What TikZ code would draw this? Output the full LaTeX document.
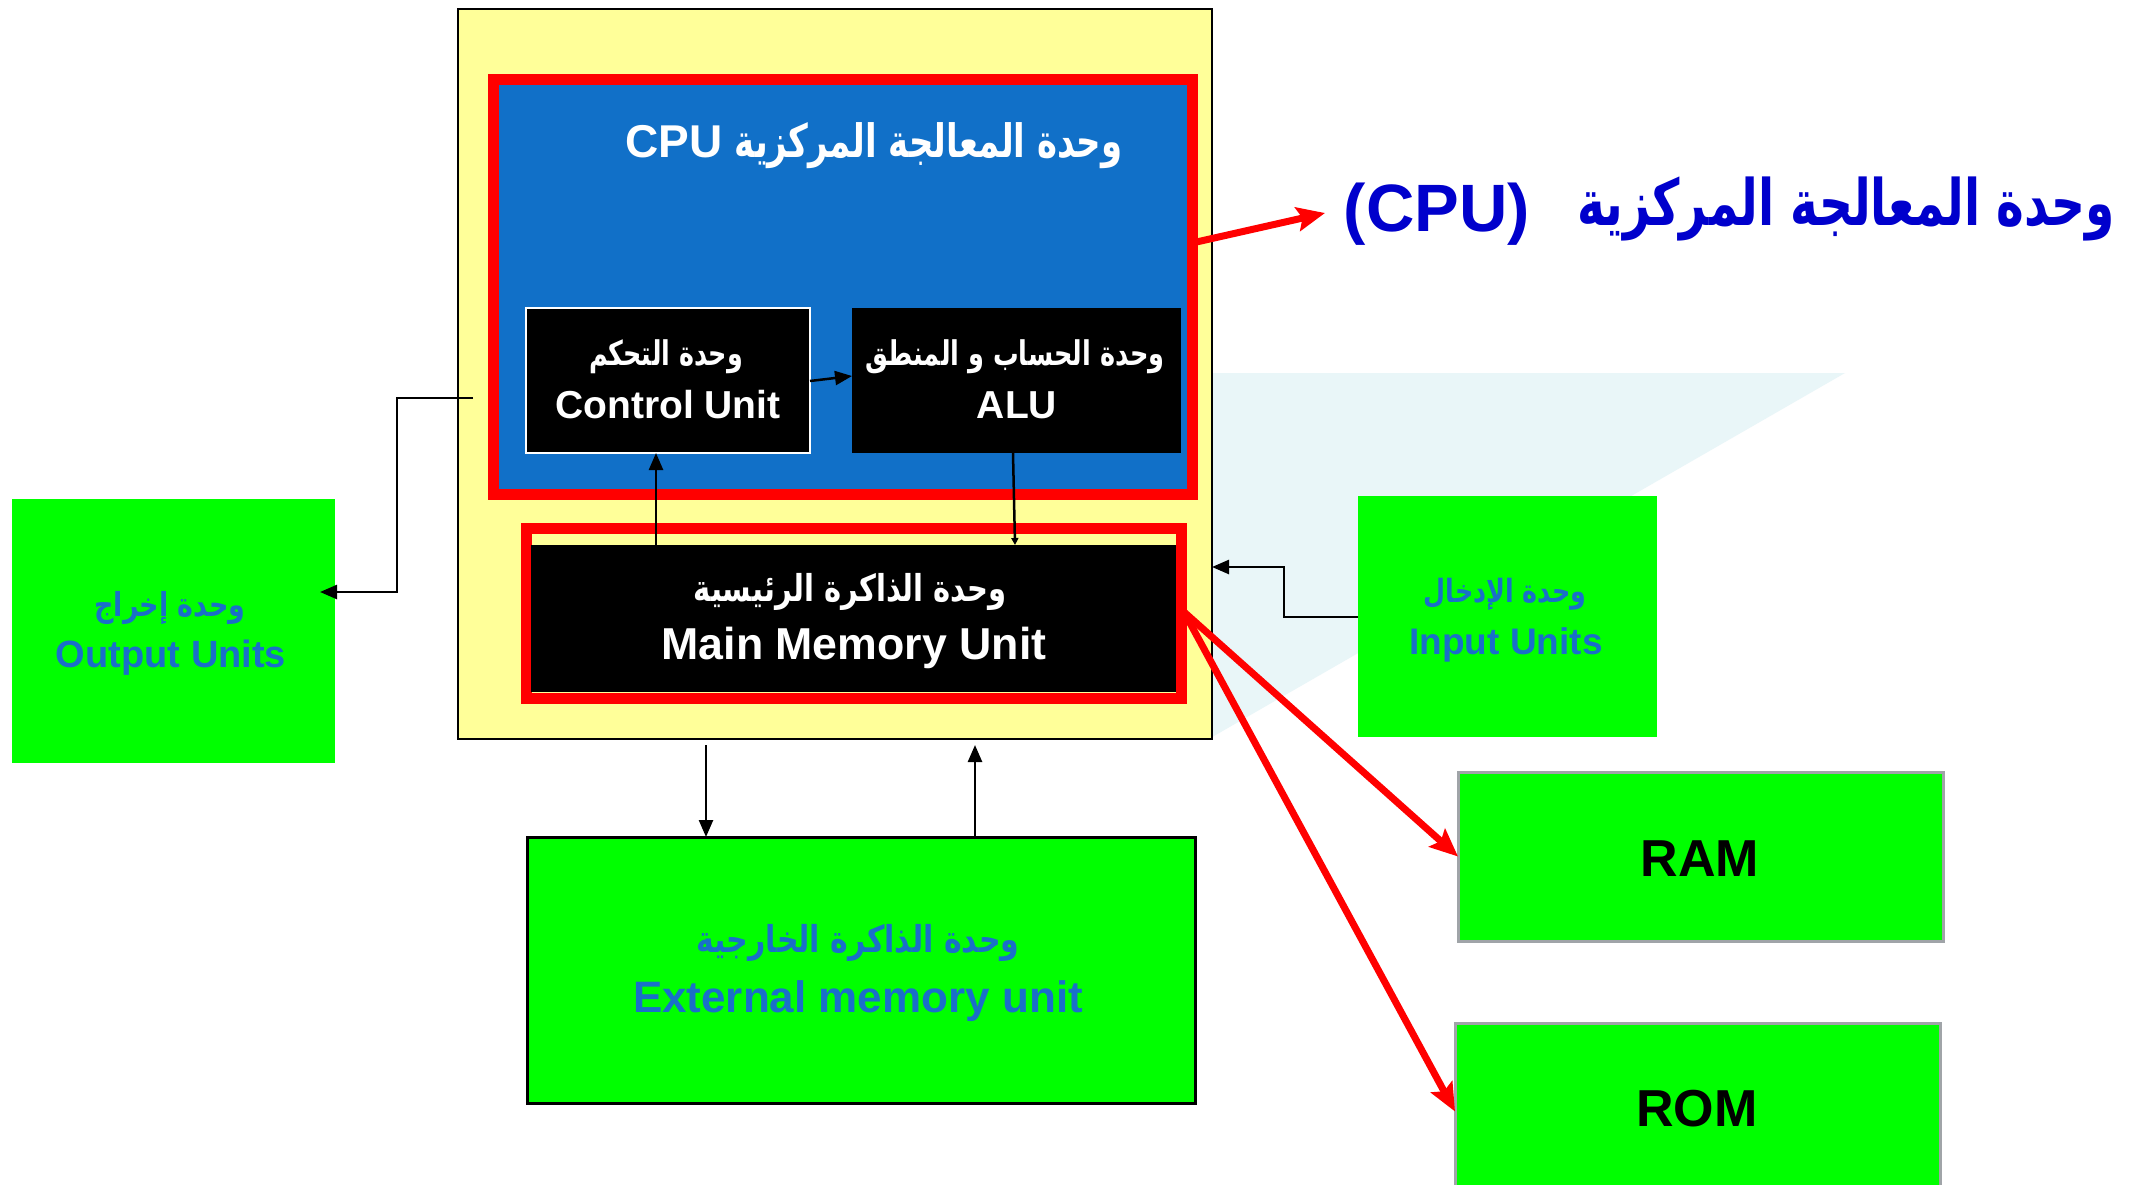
\documentclass[tikz,border=0pt]{standalone}
\usepackage{fontspec}
\usepackage{graphicx}
\setmainfont{Liberation Sans}
\newfontfamily\arabfont[Script=Arabic]{DejaVu Sans}
\TeXXeTstate=1
\usetikzlibrary{arrows.meta}
\definecolor{yel}{HTML}{FFFF99}
\definecolor{cpublue}{HTML}{1170C8}
\definecolor{grn}{HTML}{00FF00}
\definecolor{txtblue}{HTML}{1A6FC9}
\definecolor{ttlblue}{HTML}{0000CC}
\definecolor{bgcyan}{HTML}{E9F6F8}
\definecolor{gbord}{HTML}{A0A4A8}
\newcommand\ARW[2]{\resizebox{#1}{\height}{\arabfont\bfseries #2}}
\newcommand\fsz[1]{\fontsize{#1}{#1}\selectfont}
\begin{document}
\begin{tikzpicture}[x=1pt,y=-1pt,
  box/.style={rectangle,inner sep=0pt,outer sep=0pt},
  greenbox/.style={box,fill=grn},
  lbl/.style={inner sep=0pt,outer sep=0pt,anchor=center},
  conn/.style={line width=2.5pt,draw=black,-{Triangle[length=17pt,width=14pt]}},
  redarrow/.style={line width=7pt,draw=red,-{Stealth[length=28pt,width=24pt,inset=5pt]}}]
\useasboundingbox (0,0) rectangle (2137,1184);
\clip (0,0) rectangle (2137,1184);
\fill[white] (0,0) rectangle (2137,1184);
% background tint
\fill[bgcyan] (1212,373) -- (1845,373) -- (1207,740) -- cycle;
% outer yellow box
\node[box,fill=yel,draw=black,line width=2.5pt,minimum width=754pt,minimum height=730pt] (sys) at (835,374) {};
% CPU frame
\node[box,fill=cpublue,draw=red,line width=11pt,minimum width=699pt,minimum height=415pt] (cpu) at (842.5,286.5) {};
\node[lbl,text=white,font=\fsz{46}\bfseries] (cputitle) at (874,146) {CPU\hspace{12pt}\ARW{388pt}{\beginR وحدة المعالجة المركزية\endR}};
% control unit and ALU
\node[box,fill=black,draw=white,line width=2pt,minimum width=284pt,minimum height=145pt] (cu) at (668,380.5) {};
\node[box,fill=black,minimum width=329pt,minimum height=145pt] (alu) at (1016.5,380.5) {};
\node[lbl,text=white,font=\fsz{34}] (cuar) at (666,357) {\ARW{154pt}{\beginR وحدة التحكم\endR}};
\node[lbl,text=white,font=\fsz{39}\bfseries] (cuen) at (668,405) {Control Unit};
\node[lbl,text=white,font=\fsz{34}] (aluar) at (1015,357) {\ARW{299pt}{\beginR وحدة الحساب و المنطق\endR}};
\node[lbl,text=white,font=\fsz{39}\bfseries] (aluen) at (1017,405) {ALU};
% main memory
\node[box,fill=yel,draw=red,line width=11pt,minimum width=655pt,minimum height=170pt] (memframe) at (853.5,613) {};
\node[box,fill=black,minimum width=645pt,minimum height=147pt] (mem) at (853.5,618.5) {};
\node[lbl,text=white,font=\fsz{37}] (memar) at (850,592) {\ARW{313pt}{\beginR وحدة الذاكرة الرئيسية\endR}};
\node[lbl,text=white,font=\fsz{44.7}\bfseries] (memen) at (854,648) {Main Memory Unit};
% output
\node[greenbox,minimum width=323pt,minimum height=264pt] (out) at (173.5,631) {};
\node[lbl,text=txtblue,font=\fsz{33}] (outar) at (170,608) {\ARW{151pt}{\beginR وحدة إخراج\endR}};
\node[lbl,text=txtblue,font=\fsz{38}\bfseries] (outen) at (171,658) {Output Units};
% input
\node[greenbox,minimum width=299pt,minimum height=241pt] (inp) at (1507.5,616.5) {};
\node[lbl,text=txtblue,font=\fsz{32}] (inpar) at (1505,594) {\ARW{163pt}{\beginR وحدة الإدخال\endR}};
\node[lbl,text=txtblue,font=\fsz{37}\bfseries] (inpen) at (1506,645) {Input Units};
% external memory
\node[greenbox,draw=black,line width=3pt,minimum width=668pt,minimum height=266pt] (ext) at (861,970) {};
\node[lbl,text=txtblue,font=\fsz{37}] (extar) at (858,943) {\ARW{323pt}{\beginR وحدة الذاكرة الخارجية\endR}};
\node[lbl,text=txtblue,font=\fsz{44}\bfseries] (exten) at (858,1001) {External memory unit};
% RAM / ROM
\node[greenbox,draw=gbord,line width=3pt,minimum width=485pt,minimum height=169pt] (ram) at (1700.5,856.5) {};
\node[lbl,font=\fsz{52}\bfseries] (ramt) at (1700,859) {RAM};
\node[greenbox,draw=gbord,line width=3pt,minimum width=485pt,minimum height=177pt] (rom) at (1697.5,1111.5) {};
\node[lbl,font=\fsz{52}\bfseries] (romt) at (1697,1109) {ROM};
% big title
\node[lbl,text=ttlblue,font=\fsz{67}\bfseries] (bigcpu) at (1437,214) {(CPU)};
\node[lbl,text=ttlblue,font=\fsz{64}] (bigar) at (1846,209) {\ARW{538pt}{\beginR وحدة المعالجة المركزية\endR}};
% coordinates for connectors
\coordinate (cpuout) at (1192,243);
\coordinate (cputip) at (1325,213);
\coordinate (memout) at (1184,612);
\coordinate (cuin) at (656,453);
\coordinate (memcu) at (656,545);
\coordinate (aluout) at (1013,453);
\coordinate (memalu) at (1015,545);
\coordinate (cuout) at (810,381);
\coordinate (aluin) at (852,376);
\coordinate (outstart) at (473,398);
\coordinate (outtip) at (320,592);
\coordinate (inpstart) at (1358,617);
\coordinate (systip) at (1212,567);
\coordinate (sysdown) at (706,745);
\coordinate (extin) at (706,837);
\coordinate (extout) at (975,837);
\coordinate (sysup) at (975,745);
% connectors
\draw[redarrow] (cpuout) -- (cputip);
\draw[redarrow] (memout) -- (ram.west);
\draw[redarrow] (memout) -- (rom.west);
\draw[conn] (memcu) -- (cuin);
\draw[line width=2.5pt,-{Triangle[length=7pt,width=7pt]}] (aluout) -- (memalu);
\draw[conn] (cuout) -- (aluin);
\draw[conn] (outstart) -- (397,398) -- (397,592) -- (outtip);
\draw[conn] (inpstart) -- (1284,617) -- (1284,567) -- (systip);
\draw[conn] (sysdown) -- (extin);
\draw[conn] (extout) -- (sysup);
\end{tikzpicture}
\end{document}
